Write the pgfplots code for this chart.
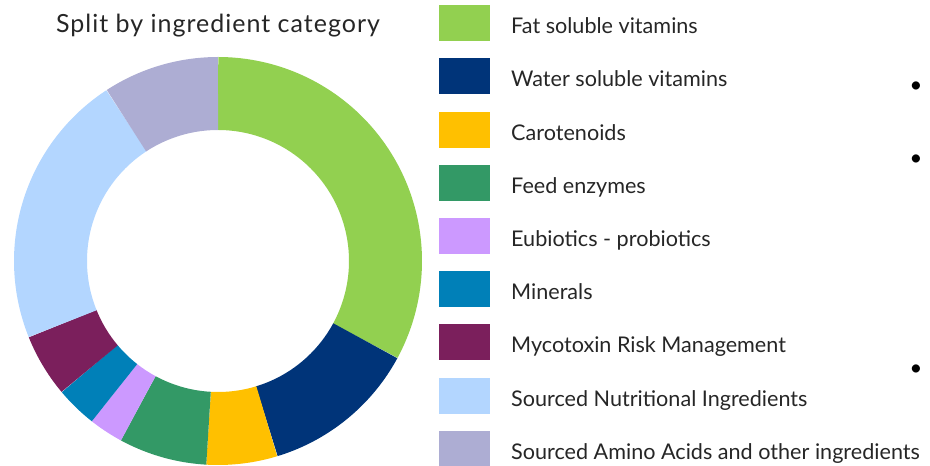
\documentclass[border=0pt]{standalone}
\usepackage{fontspec}
\setmainfont{Lato}
\newfontfamily\titlefont[LetterSpace=4]{Lato}
\usepackage{pgfplots}
\pgfplotsset{compat=1.18}

\definecolor{cfat}{HTML}{92D050}
\definecolor{cwater}{HTML}{003479}
\definecolor{ccarot}{HTML}{FFC000}
\definecolor{cenz}{HTML}{339966}
\definecolor{ceub}{HTML}{CC99FF}
\definecolor{cmin}{HTML}{0080B8}
\definecolor{cmyco}{HTML}{7B1F5C}
\definecolor{cnut}{HTML}{B3D6FF}
\definecolor{camino}{HTML}{ADADD3}
\definecolor{ctext}{HTML}{262626}

% share of each category in percent, clockwise from 12 o'clock
\def\cum{0}
\newcommand\slice[2]{%
  \pgfmathsetmacro\sA{\cum*3.6}%
  \pgfmathsetmacro\sB{(\cum+#1)*3.6}%
  \edef\doslice{\noexpand\addplot[color=#2, line width=73pt, domain=\sA:\sB, samples=120]
    ({167.5*sin(x)}, {167.5*cos(x)});}%
  \doslice
  \pgfmathsetmacro\newcum{\cum+#1}%
  \global\let\cum\newcum
}

\begin{document}
\begin{tikzpicture}
\begin{axis}[
  name=ax,
  x=1pt, y=1pt,
  xmin=-204, xmax=204, ymin=-204, ymax=204,
  hide axis, clip=false,
  title={\titlefont Split by ingredient category},
  title style={font=\fontsize{25}{30}\selectfont, text=ctext, anchor=base,
    at={(0.5,1)}, yshift=18.8pt, inner sep=0pt},
  legend image code/.code={\fill[#1, draw=none] (0pt,-14.7pt) rectangle (51pt,21.3pt);},
  legend cell align=left,
  legend style={at={(1.0417,1.1275)}, anchor=north west, draw=none, fill=none,
    inner sep=0pt, row sep=17.2pt, column sep=21pt,
    font=\fontsize{21.6}{26}\selectfont, text=ctext,
    nodes={inner sep=0pt}},
]
\slice{32.9}{cfat}
\slice{12.4}{cwater}
\slice{5.6}{ccarot}
\slice{7.0}{cenz}
\slice{2.7}{ceub}
\slice{3.3}{cmin}
\slice{5.0}{cmyco}
\slice{21.9}{cnut}
\slice{9.2}{camino}
\legend{Fat soluble vitamins, Water soluble vitamins, Carotenoids, Feed enzymes,
  Eubiotics - probiotics, Minerals, Mycotoxin Risk Management,
  Sourced Nutritional Ingredients, Sourced Amino Acids and other ingredients}
\node[font=\fontsize{22}{24}\selectfont] at (axis cs:698,174) {\textbullet};
\node[font=\fontsize{22}{24}\selectfont] at (axis cs:698,101) {\textbullet};
\node[font=\fontsize{22}{24}\selectfont] at (axis cs:698,-109) {\textbullet};
\end{axis}
\pgfresetboundingbox
\path ([shift={(-218pt,-205pt)}]ax.center) rectangle ([shift={(712pt,261pt)}]ax.center);
\end{tikzpicture}
\end{document}
